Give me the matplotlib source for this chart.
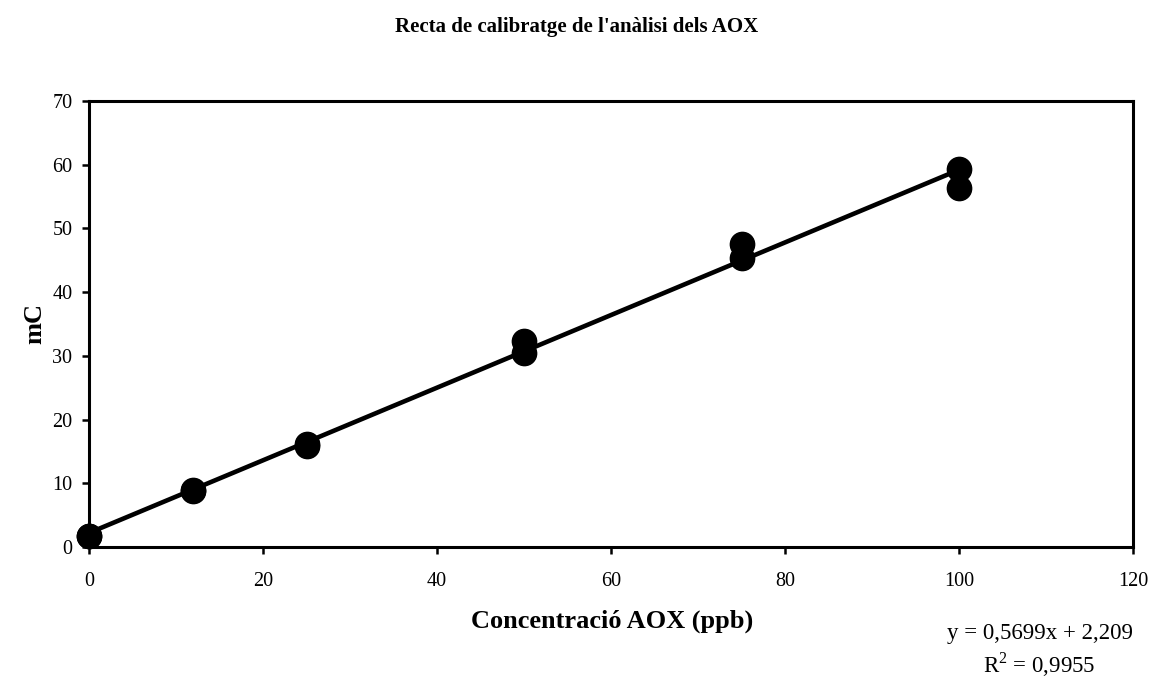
import numpy as np
import matplotlib.pyplot as plt

plt.rcParams['font.family'] = ['Liberation Serif', 'DejaVu Serif']
plt.rcParams['mathtext.fontset'] = 'custom'
plt.rcParams['mathtext.rm'] = 'Liberation Serif'

# Dades de calibratge (concentració AOX en ppb, resposta en mC)
conc = [0, 0, 12, 12, 25, 25, 50, 50, 75, 75, 100, 100]
mc = [1.7, 1.8, 8.8, 8.9, 15.8, 16.1, 30.4, 32.4, 45.4, 47.6, 56.3, 59.4]

slope = 0.5699
intercept = 2.209
r2 = 0.9955

x_ticks = [0, 20, 40, 60, 80, 100, 120]
y_ticks = [0, 10, 20, 30, 40, 50, 60, 70]

fig = plt.figure(figsize=(11.53, 6.8), dpi=100)
ax = fig.add_axes([89 / 1153, 1 - 547 / 680, (1133 - 89) / 1153, (547 - 101) / 680])

xs = np.array([min(conc), max(conc)])
ax.plot(xs, slope * xs + intercept, color='black', lw=3.3, zorder=2)
ax.plot(conc, mc, 'o', color='black', markersize=17.5, zorder=3, clip_on=False)

ax.set_xlim(0, 120)
ax.set_ylim(0, 70)
ax.set_xticks(x_ticks)
ax.set_yticks(y_ticks)
ax.tick_params(direction='out', length=5, width=1.8, labelsize=14.5)
ax.tick_params(axis='x', pad=13)
ax.tick_params(axis='y', pad=7)
for s in ax.spines.values():
    s.set_linewidth(2.2)

fig.text(0.5, 1 - 27 / 680, "Recta de calibratge de l'anàlisi dels AOX",
         ha='center', va='center', fontsize=15, fontweight='bold')
fig.text(612 / 1153, 1 - 621 / 680, "Concentració AOX (ppb)",
         ha='center', va='center', fontsize=19, fontweight='bold')
fig.text(35 / 1153, 1 - 324 / 680, "mC", rotation=90,
         ha='center', va='center', fontsize=19, fontweight='bold')

eq = f"y = {slope:.4f}x + {intercept:.3f}".replace('.', ',')
fig.text(1133 / 1153, 1 - 634 / 680, eq, ha='right', va='center', fontsize=16.5)
fig.text(1095 / 1153, 1 - 665 / 680, r"R$^{\mathrm{2}}$ = " + f"{r2:.4f}".replace('.', ','),
         ha='right', va='center', fontsize=16.5)

fig.savefig('out.png', dpi=100)
